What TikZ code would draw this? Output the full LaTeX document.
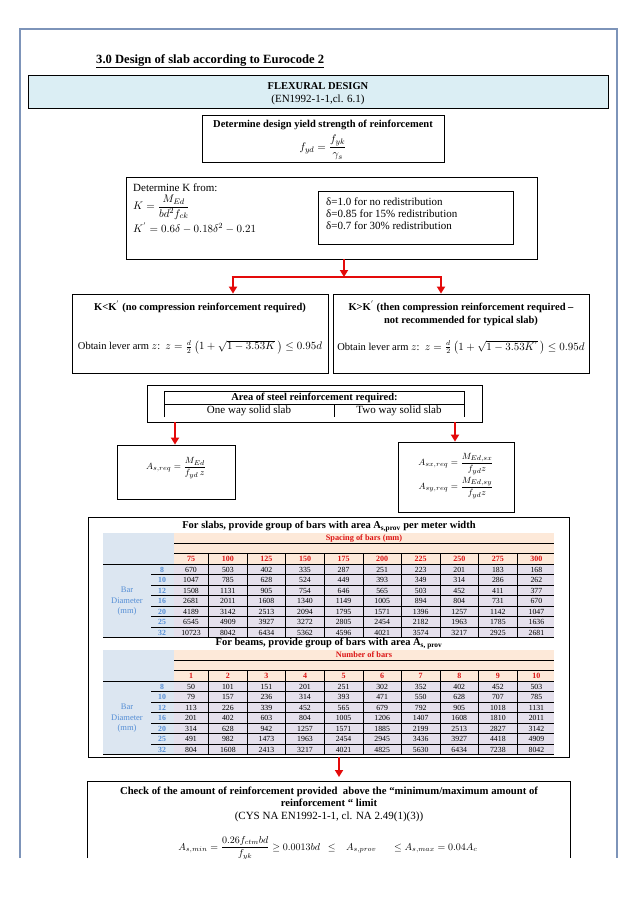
\documentclass[tikz,border=0pt]{standalone}
\usepackage{amsmath}
\usepackage{fontspec}
\setmainfont{Liberation Serif}
\usetikzlibrary{arrows.meta,calc}
\definecolor{frameblue}{RGB}{125,148,185}
\definecolor{headblue}{RGB}{219,238,244}
\definecolor{tabblue}{RGB}{220,230,241}
\definecolor{tabpeach}{RGB}{253,233,217}
\definecolor{tablav}{RGB}{229,224,236}
\definecolor{numblue}{RGB}{85,142,213}
\definecolor{numred}{RGB}{220,20,20}
\definecolor{arrred}{RGB}{228,10,10}
\begin{document}
\begin{tikzpicture}[x=1pt,y=-1pt,
  box/.style={draw, line width=0.8pt, inner sep=0pt},
  txt/.style={inner sep=0pt, font=\fontsize{11}{12}\selectfont},
  mtxt/.style={inner sep=0pt, font=\fontsize{9.5}{11}\selectfont},
  btxt/.style={inner sep=0pt, font=\fontsize{10.5}{12}\selectfont\bfseries},
  num/.style={inner sep=0pt, font=\fontsize{7.8}{8}\selectfont},
  dnum/.style={inner sep=0pt, font=\fontsize{7.8}{8}\selectfont\bfseries, text=numblue},
  hnum/.style={inner sep=0pt, font=\fontsize{8}{8}\selectfont\bfseries, text=numred},
  redarrow/.style={draw=arrred, line width=2.6pt, -{Triangle[width=8pt,length=7pt]}},
  redline/.style={draw=arrred, line width=2.6pt},
  tline/.style={line width=0.5pt},
]
\useasboundingbox[fill=white] (0,0) rectangle (638,903);
% page frame
\draw[frameblue, line width=1.8pt] (20,858) -- (20,29) -- (617,29) -- (617,858);

% title
\node[anchor=base west, inner sep=0pt, font=\fontsize{12.6}{14}\selectfont\bfseries] (title) at (96,63) {\underline{3.0 Design of slab according to Eurocode 2}};

% flexural design
\node[box, fill=headblue, minimum width=580pt, minimum height=33pt] (flex) at (318,91.5) {};
\node[btxt] (flext1) at (318,86.5) {FLEXURAL DESIGN};
\node[txt] (flext2) at (318,99.5) {(EN1992-1-1,cl. 6.1)};

% yield strength
\node[box, minimum width=242pt, minimum height=47pt] (yield) at (323,138.5) {};
\node[btxt] (yieldt) at (323,125) {Determine design yield strength of reinforcement};
\node[txt] (yieldf) at (323,147.5) {$f_{yd}=\dfrac{f_{yk}}{\gamma_s}$};

% K box
\node[box, minimum width=411pt, minimum height=82pt] (kbox) at (331.5,218) {};
\node[txt, anchor=west] (kt) at (133,187.5) {Determine K from:};
\node[txt, anchor=west] (kf) at (133,207) {$K=\dfrac{M_{Ed}}{bd^2 f_{ck}}$};
\node[txt, anchor=west] (kp) at (133,228) {$K^{'}=0.6\delta-0.18\delta^2-0.21$};
\node[box, minimum width=195pt, minimum height=53pt] (dbox) at (415.5,217.5) {};
\node[txt, anchor=west, align=left] (dt) at (326,214) {δ=1.0 for no redistribution\\δ=0.85 for 15\% redistribution\\δ=0.7 for 30\% redistribution};

% branch
\coordinate (kout) at (344,259);
\coordinate (brm) at (344,277);
\coordinate (brl) at (233,277);
\coordinate (brr) at (441,277);
\node[box, minimum width=256pt, minimum height=79pt] (lbox) at (200,333.5) {};
\node[box, minimum width=256pt, minimum height=79pt] (rbox) at (461,333.5) {};
\draw[redline] ($(brl)+(-1.3,0)$) -- ($(brr)+(1.3,0)$);
\draw[redarrow] (kout) -- (brm);
\draw[redarrow] (brl) -- (brl |- lbox.north);
\draw[redarrow] (brr) -- (brr |- rbox.north);
\node[btxt] (lt) at (200,307) {K<K$^{'}$ (no compression reinforcement required)};
\node[btxt, align=center, font=\fontsize{10.5}{13}\selectfont\bfseries] (rt) at (461,313.5) {K>K$^{'}$ (then compression reinforcement required –\\not recommended for typical slab)};
\node[txt, font=\fontsize{10.5}{12}\selectfont] (lf) at (200,347) {Obtain lever arm $z$:\ \ $z=\tfrac{d\vphantom{y}}{2}\,\bigl(1+\sqrt{1-3.53K}\,\bigr)\le 0.95d$};
\node[txt, font=\fontsize{10.5}{12}\selectfont] (rf) at (461,347) {Obtain lever arm $z$:\ \ $z=\tfrac{d\vphantom{y}}{2}\,\bigl(1+\sqrt{1-3.53K^{'}}\,\bigr)\le 0.95d$};

% area of steel
\node[box, minimum width=335pt, minimum height=37pt] (abox) at (314.5,403.5) {};
\draw[line width=0.6pt] (164.5,417) -- (164.5,391) -- (464,391) -- (464,417);
\draw[line width=0.6pt] (164.5,404) -- (464,404);
\draw[line width=0.6pt] (334,404) -- (334,417);
\node[btxt] (at) at (314.5,397.5) {Area of steel reinforcement required:};
\node[txt] (a1) at (249,411) {One way solid slab};
\node[txt] (a2) at (399,411) {Two way solid slab};

\node[box, minimum width=118pt, minimum height=54pt] (f1) at (176,472) {};
\node[box, minimum width=116pt, minimum height=70pt] (f2) at (456,477) {};
\coordinate (aol) at (175,422);
\coordinate (aor) at (455,422);
\draw[redarrow] (aol) -- (aol |- f1.north);
\draw[redarrow] (aor) -- (aor |- f2.north);
\node[mtxt] (f1t) at (176,468) {$A_{s,req}=\dfrac{M_{Ed}}{f_{yd}\,z}$};
\node[mtxt, align=center] (f2t) at (456,476) {$A_{sx,req}=\dfrac{M_{Ed,sx}}{f_{yd}z}$\\[1pt]$A_{sy,req}=\dfrac{M_{Ed,sy}}{f_{yd}z}$};

% table
\node[box, minimum width=481pt, minimum height=240pt] (tab) at (328.5,637) {};
\foreach \off/\ttl/\sub/\hdr [count=\s] in {
  0/{For slabs, provide group of bars with area A\textsubscript{s,prov} per meter width}/{Spacing of bars (mm)}/{75,100,125,150,175,200,225,250,275,300},
  117/{For beams, provide group of bars with area A\textsubscript{s, prov}}/{Number of bars}/{1,2,3,4,5,6,7,8,9,10}}{
  \fill[tabpeach] (174,533+\off) rectangle (554,564+\off);
  \fill[tabblue] (103,533+\off) rectangle (174,637.5+\off);
  \fill[tablav] (174,564+\off) rectangle (554,637.5+\off);
  \node[inner sep=0pt, font=\fontsize{10.5}{11}\selectfont\bfseries] (ttl\s) at (329,526.5+\off) {\ttl};
  \node[inner sep=0pt, font=\fontsize{8.3}{9}\selectfont\bfseries, text=numred] (sub\s) at (364,538+\off) {\sub};
  \draw[tline] (174,543+\off) -- (554,543+\off);
  \draw[tline] (174,553+\off) -- (554,553+\off);
  \draw[line width=0.9pt] (103,564+\off) -- (554,564+\off);
  \draw[tline] (103,637.5+\off) -- (554,637.5+\off);
  \foreach \h [count=\j from 0] in \hdr {
    \pgfmathsetmacro{\cxx}{\j==0 ? 191 : 170+38.57*\j+19.3}
    \node[hnum] (h\s-\j) at (\cxx,558.5+\off) {\h};
  }
  \foreach \j in {1,...,9} {
    \draw[tline] (170+38.57*\j,553+\off) -- (170+38.57*\j,637.5+\off);
  }
  \foreach \k in {1,...,6} {
    \draw[tline] (151,564+10.5*\k+\off) -- (554,564+10.5*\k+\off);
  }
  \node[inner sep=0pt, align=center, font=\fontsize{8.5}{10.5}\selectfont, text=numblue] (lab\s) at (127,601.5+\off) {Bar\\Diameter\\(mm)};
}
\foreach \d/\vals [count=\i from 0] in {
  8/{670,503,402,335,287,251,223,201,183,168},
  10/{1047,785,628,524,449,393,349,314,286,262},
  12/{1508,1131,905,754,646,565,503,452,411,377},
  16/{2681,2011,1608,1340,1149,1005,894,804,731,670},
  20/{4189,3142,2513,2094,1795,1571,1396,1257,1142,1047},
  25/{6545,4909,3927,3272,2805,2454,2182,1963,1785,1636},
  32/{10723,8042,6434,5362,4596,4021,3574,3217,2925,2681}}{
  \node[dnum] (sd-\i) at (162,569.5+10.5*\i) {\d};
  \foreach \v [count=\j from 0] in \vals {
    \pgfmathsetmacro{\cxx}{\j==0 ? 191 : 170+38.57*\j+19.3}
    \node[num] (s-\i-\j) at (\cxx,569.5+10.5*\i) {\v};
  }
}
\foreach \d/\vals [count=\i from 0] in {
  8/{50,101,151,201,251,302,352,402,452,503},
  10/{79,157,236,314,393,471,550,628,707,785},
  12/{113,226,339,452,565,679,792,905,1018,1131},
  16/{201,402,603,804,1005,1206,1407,1608,1810,2011},
  20/{314,628,942,1257,1571,1885,2199,2513,2827,3142},
  25/{491,982,1473,1963,2454,2945,3436,3927,4418,4909},
  32/{804,1608,2413,3217,4021,4825,5630,6434,7238,8042}}{
  \node[dnum] (bd-\i) at (162,686.5+10.5*\i) {\d};
  \foreach \v [count=\j from 0] in \vals {
    \pgfmathsetmacro{\cxx}{\j==0 ? 191 : 170+38.57*\j+19.3}
    \node[num] (b-\i-\j) at (\cxx,686.5+10.5*\i) {\v};
  }
}

% arrow to check
\coordinate (tout) at (339,757);
\coordinate (cin) at (339,777);
\draw[redarrow] (tout) -- (cin);

% check box (cut by page end)
\draw[line width=0.8pt] (87,858) -- (87,781) -- (570,781) -- (570,858);
\node[inner sep=0pt, align=center, font=\fontsize{10.7}{12}\selectfont\bfseries] (ct) at (329,797) {Check of the amount of reinforcement provided\ \ above the “minimum/maximum amount of\\reinforcement “ limit};
\node[txt] (cref) at (329,817) {(CYS NA EN1992-1-1, cl. NA 2.49(1)(3))};
\begin{scope}
\clip (80,775) rectangle (600,858);
\node[txt, font=\fontsize{10}{12}\selectfont] (cf) at (328,848) {$A_{s,min}=\dfrac{0.26f_{ctm}bd}{f_{yk}}\ge 0.0013bd\ \ \le\ \ \ A_{s,prov}\quad\ \ \le A_{s,max}=0.04A_c$};
\end{scope}
\end{tikzpicture}
\end{document}
